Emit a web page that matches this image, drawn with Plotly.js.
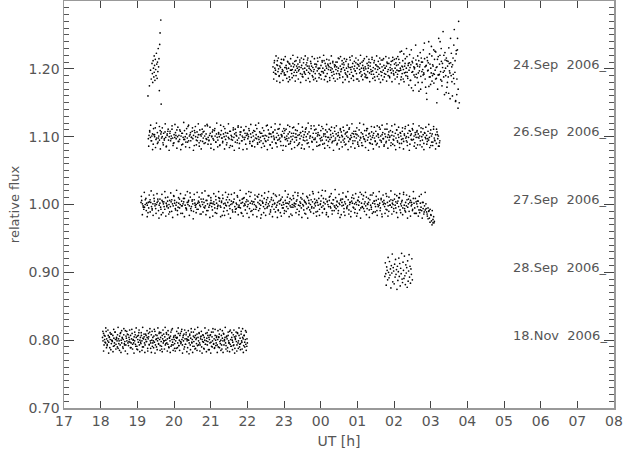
<!DOCTYPE html>
<html>
<head>
<meta charset="utf-8">
<script src="https://cdn.plot.ly/plotly-3.0.1.min.js"></script>
<style>html,body{margin:0;padding:0;background:#fff;}#chart{width:624px;height:453px;}</style>
</head>
<body>
<div id="chart"></div>
<script>
// ---- data ----
// flux deviations in units of 0.001 relative to each night's level
var labels = ["24.Sep\u00a0\u00a02006_", "26.Sep\u00a0\u00a02006_", "27.Sep\u00a0\u00a02006_", "28.Sep\u00a0\u00a02006_", "18.Nov\u00a0\u00a02006_"];
var levels = [1.20, 1.10, 1.00, 0.90, 0.80];

// 24 Sep: short first segment (time, flux)
var sep24aTime = [19.29,19.33,19.36,19.38,19.40,19.41,19.42,19.43,19.44,19.45,19.46,19.46,19.47,19.48,19.49,19.50,19.51,19.52,19.53,19.54,19.55,19.56,19.57,19.58,19.59,19.60,19.61,19.62,19.64,19.65];
var sep24aFlux = [1.160,1.175,1.198,1.185,1.208,1.193,1.180,1.212,1.201,1.188,1.219,1.195,1.205,1.183,1.214,1.199,1.190,1.223,1.207,1.186,1.210,1.196,1.230,1.203,1.215,1.168,1.236,1.253,1.272,1.148];

// 24 Sep: main segment (set A whole run, set C quiet part, set D noisy end)
var sep24bStart = 22.70, sep24bEnd = 27.78;
var sep24bDev = [
3,-5,9,1,-2,-8,6,12,-4,0,-10,4,2,-7,8,-1,-3,14,-6,2,
-9,5,0,-4,10,1,-12,7,-2,4,-7,-1,8,3,-5,11,-2,-10,4,1,
7,-3,-1,13,-7,2,5,-11,0,9,-4,1,-8,6,-2,4,16,-5,1,-7,
-1,8,4,-10,2,-4,-1,7,-14,3,6,-3,11,0,-7,1,-9,5,-4,10,
1,-6,12,-2,-11,4,1,-7,7,-1,3,-13,8,2,-5,0,9,-4,-8,3,
5,-1,-7,10,-3,1,15,-9,4,-4,0,7,-12,2,6,-2,-6,11,1,-10,
-4,7,2,-8,13,-1,-5,3,8,-11,0,4,-3,9,-7,1,-15,6,4,-1,
8,-4,1,-9,5,12,-2,-7,3,0,-13,8,-4,1,10,-6,4,-1,-8,14,
-3,2,9,-12,0,6,-5,4,-1,11,-8,1,7,-4,-10,3,13,-2,5,-7,
1,-8,4,10,-4,-1,8,-11,2,6,-6,0,12,-3,-9,7,1,-5,15,-2,
-8,6,14,-3,25,-2,-12,4,3,-15,22,-6,8,-5,1,18,-11,5,-24,9,
2,-17,28,-5,9,-32,3,0,-12,35,-8,7,4,-20,12,-3,6,-30,16,-4,
10,-9,-6,38,3,-27,5,-45,12,-2,40,-12,7,-23,-6,19,-10,4,28,-8,
26,-15,2,-50,14,-9,45,-8,20,-4,30,-18,8,55,-12,-3,24,1,-35,12,
-20,11,-36,8,-6,45,-10,3,-40,16,-14,58,-5,-48,22,-38,28,-58,70,-50];
var sep24cStart = 22.72, sep24cEnd = 26.05;
var sep24cDev = [
-15,12,-7,19,-18,5,16,-11,-20,9,14,-4,-17,13,-9,18,2,-14,11,-19,
8,-16,15,-2,-13,20,-10,6,-18,12,-5,17,-15,3,10,-20,16,-8,-12,14,
-6,19,-17,9,13,-14,4,-19,11,-3,18,-12,-16,15,-7,7,-18,16,1,-13,
17,-9,-15,12,-4,20,-16,8,-11,14,-19,5,13,-17,-2,19,-10,11,-14,6,
-18,10,3,-15,16,-7,-13,18,-1,12,-20,9,15,-16,-8,14,-12,4,-19,17,
2,-14,19,-10,-17,11,-3,16,-15,7,13,-18,-6,20,-11,10,-16,1,15,-12,
-9,18,-13,5,14,-19,9,-4,17,-14,-8,12,-17,6,19,-11,3,-15,16,-20,
13,-5,-16,15,-12,1,18,-18,8,-10,16,-13,-2,11,-19,17,-7,14,-15,9];
var sep24dStart = 26.07, sep24dEnd = 27.75;
var sep24dDev = [
5,-12,18,-3,-22,9,1,-16,26,-7,12,-1,-19,4,15,-10,30,-5,-14,8,
-2,21,-17,6,-28,11,-4,16,-9,2,-24,13,7,-13,19,-6,-33,3,24,-11,
10,-20,-1,28,-8,15,-15,4,-36,17,-3,9,-26,22,-12,1,33,-18,6,-7,
-21,14,-2,25,-14,3,-30,18,-9,7,40,-16,11,-25,2,-5,20,-38,13,-10,
16,-27,4,-12,31,-3,-44,9,23,-19,6,-8,35,-22,12,-47,27,-15,45,-30];

// 26 Sep
var sep26Start = 19.30, sep26End = 27.25;
var sep26Dev = [
-3,2,7,-1,-6,1,4,-11,3,0,13,-4,-2,6,-8,1,-5,9,4,-2,
0,-9,5,-3,7,-1,-14,2,8,-5,0,5,-6,1,11,-2,-10,3,-1,6,
-3,10,0,-7,2,-4,8,1,-12,5,-1,-4,9,0,-8,4,-2,15,-6,1,
3,-6,-1,8,-3,2,-13,6,0,-5,7,-1,3,-9,10,-6,1,4,-7,-2,
8,1,-9,4,-4,16,-1,-6,2,5,-11,0,7,-3,-5,9,1,-8,4,-1,
-5,6,0,-12,3,9,-2,-7,4,0,12,-4,1,-9,5,-1,-3,8,-13,2,
0,-5,10,-1,4,-8,6,1,-5,14,-2,-10,3,7,-6,1,-1,9,-4,5,
-11,2,5,-3,0,9,-7,4,-1,-14,6,1,-5,8,-2,3,12,-9,0,-4,
7,-1,-6,5,1,-10,9,-3,2,-7,1,17,-5,-1,5,-12,4,0,-8,6,
1,-4,10,-9,-1,5,-5,2,12,-2,-7,3,0,8,-13,5,-1,-4,11,1,
-6,4,-2,7,-10,0,5,-4,1,14,-8,-1,4,-5,9,2,-11,3,-3,6,
1,-12,8,-1,3,-6,11,0,-5,4,-9,7,-2,1,16,-7,-1,5,-4,10,
-2,5,-8,1,6,-13,2,-3,9,-1,-5,12,1,-10,4,0,-5,7,-1,-7,
11,-4,3,-1,-9,5,1,-6,8,-2,4,-12,1,6,-5,-1,10,-8,2,0,
-5,9,-3,4,-11,1,7,-1,-7,13,-4,2,-1,5,-10,4,0,-6,8,-2,
3,-8,1,10,-5,-1,6,-13,4,0,-3,9,-7,2,12,-5,-1,4,-9,1,
-4,7,-11,2,5,-2,-6,8,1,-10,4,-1,14,-5,1,-8,3,6,-3,-12,
4,0,-7,11,-1,3,-5,-1,9,-9,2,7,-4,1,-13,5,-2,10,-6,3,
-1,-10,6,1,-4,8,-3,-7,4,12,-2,0,-8,5,-1,9,-11,2,4,-5,
10,-4,1,-9,3,-1,7,-12,4,-2,1,-6,13,0,-5,3,-10,6,-1,-3,
2,-7,8,-5,-1,5,-13,1,4,-8,11,-2,-6,3,-10,7,-3,1,-14,-6];
var sep26bDev = [
-14,9,17,-6,-19,12,3,-16,20,-10,-2,15,-18,7,13,-12,-5,19,-15,4,
11,-20,8,-3,16,-13,-9,18,2,-17,14,-7,10,-19,5,-11,21,-4,-15,12,
-8,17,-16,6,-1,13,-20,9,15,-12,-6,19,-14,3,-18,11,7,-10,16,-3,
18,-11,-5,14,-17,1,10,-19,12,-8,20,-15,4,-13,17,-2,-9,15,-18,6,
-12,5,19,-16,8,-4,-14,13,-20,11,2,-9,16,-17,7,14,-6,-19,10,-1,
15,-18,3,12,-10,18,-13,-7,9,-15,17,-3,-11,20,-8,5,-16,13,1,-14,
-6,16,-19,10,4,-12,14,-17,7,-2,19,-10,-15,11,-4,18,-13,2,-20,12,
9,-14,-3,17,-11,15,-7,-18,13,5,-16,10,-1,-13,19,-9,6,-17,14,-5,
-18,7,13,-10,20,-15,1,12,-8,-19,16,-4,11,-14,3,17,-12,-6,15,-11,
4,-17,10,18,-13,-1,-16,9,14,-7,-20,13,-5,16,-10,2,-18,12,7,-15,
14,-8,-12,6,17,-19,11,-3,-15,19,-6,8,-17,4,13,-11,-14,20,-2,-9,
-13,18,-4,-16,9,12,-20,5,-10,15,-1,-18,14,-7,-12,16,3,-15,11,-6,
17,-3,-14,11,-9,19,-17,7,1,-13,16,-11,-5,18,-19,10,-8,14,-16,5,
-10,13,-18,2,15,-6,-13,17,-20,8,-4,12,19,-14,6,-17,9,-1,16,-12,
7,-15,12,-19,5,14,-11,-3,18,-16,10,-8,-13,15,-5,-18,11,3,-14,-9];

// 27 Sep
var sep27Start = 19.10, sep27End = 27.10;
var sep27Dev = [
3,6,1,-2,-7,-4,0,9,2,-1,-12,-5,4,7,3,-3,-8,1,14,5,
-2,-6,0,3,8,-9,-1,2,-4,-15,6,4,1,-3,-7,10,2,-1,5,-5,
0,-11,-3,4,7,1,-2,12,6,-6,-1,3,-9,-4,2,8,0,-13,5,-2,
1,4,9,-1,-5,-8,3,0,6,-2,17,-6,-3,5,1,-10,7,2,-4,0,
-7,2,5,11,-1,-3,-14,4,0,8,3,-5,-2,6,-9,1,13,-4,-1,2,
6,-3,-8,1,4,0,-12,7,2,-6,-1,10,5,-2,-4,3,-16,9,1,-5,
2,-1,7,-9,3,15,-2,-6,0,5,1,-11,4,8,-3,-7,2,0,11,-4,
-1,6,-5,2,-13,3,9,-2,1,-8,4,7,-3,0,19,-6,2,-10,5,1,
4,-7,0,8,-2,-4,12,3,-9,1,6,-1,-15,5,2,-3,9,-6,0,3,
-5,10,1,-2,4,-11,7,-3,0,6,-7,2,14,-4,-1,3,-8,5,1,-12,
8,-1,-5,3,0,-9,6,2,-3,11,-6,1,4,-2,-14,7,0,-4,9,2,
-3,1,5,-7,13,-1,-10,4,2,-5,8,0,-2,6,-13,3,1,-6,10,-4,
2,-8,0,7,-3,4,16,-5,1,-2,-11,6,3,-1,9,-7,0,5,-4,21,
-2,3,-6,1,8,-12,4,0,-3,6,12,-5,2,-9,1,7,-2,-4,10,-1,
5,-3,-9,2,0,6,-15,3,8,-1,-6,4,1,11,-4,-2,7,-8,0,3,
-10,5,2,-4,9,1,-7,3,0,-13,6,-1,4,18,-5,2,-3,8,-6,1,
4,-2,11,-6,0,3,-8,7,-1,-4,14,2,-11,5,1,-3,6,-9,0,8,
-1,2,-5,9,-14,4,0,6,-3,1,-7,12,3,-2,-10,5,-1,7,-4,2,
0,-6,8,-1,4,-12,2,5,-3,10,-8,1,-2,6,-5,15,-1,-9,3,-2,
7,-4,1,-10,3,6,-2,0,-7,9,2,-5,-13,4,1,-3,5,-8,-12,2,
-4,-9,3,-6,-14,-2,-8,1,-11,-17,-5,-10,-20,-7,-15,-24,-9,-27,-18,-25];
var sep27bDev = [
12,-15,-4,18,7,-9,-18,3,14,-11,20,-6,-16,9,1,-13,16,5,-20,8,
-7,15,-12,4,19,-17,-3,11,-14,6,17,-10,-19,13,2,-8,21,-15,10,-5,
16,-2,-13,9,-18,14,-6,19,4,-16,11,-9,7,-21,15,-1,-12,18,-7,3,
-14,8,17,-11,-4,20,-15,6,-9,13,-19,10,2,-17,16,-5,12,-13,-3,19,
9,-18,5,14,-10,-16,18,-2,11,-14,7,-20,15,-8,3,17,-11,-6,13,-15,
-4,21,-12,8,-17,10,-1,16,-13,5,-19,12,18,-9,-15,4,14,-7,-18,11,
15,-6,-20,13,3,-12,17,-16,7,-3,19,-14,-8,10,-18,16,1,-11,12,-19,
-9,14,6,-17,11,-5,-13,20,-10,2,15,-18,9,-4,-16,13,-1,18,-12,7,
17,-15,-2,10,-19,16,-8,4,-14,12,-20,6,14,-11,-5,19,-13,8,3,-17,
-10,18,-16,1,13,-12,9,-7,20,-15,5,-18,11,-3,16,-14,7,-9,22,-6,
4,-13,15,-19,8,-2,17,-11,-16,12,-6,19,-14,3,-18,10,14,-5,-12,16,
-17,6,11,-8,-20,15,-4,13,-10,18,-15,1,9,-19,14,-7,-13,17,5,-11,
12,-16,-3,19,-9,7,-18,14,2,-13,16,-8,-17,11,-1,20,-14,6,-10,15,
-5,13,-19,10,16,-12,4,-15,18,-6,-11,14,-20,8,12,-17,3,-9,19,-13,
9,-13,5,-17,12,-8,15,-20,3,-11,18,-6,-14,-21,-9,-26,-16,-30,-22,-27];

// 28 Sep
var sep28Start = 25.75, sep28End = 26.50;
var sep28Dev = [
-6,14,-2,-19,8,3,-11,22,0,-8,16,-4,5,-23,10,-1,27,-14,7,2,
-17,12,-7,19,-3,4,-25,9,-12,1,21,-6,13,-20,6,-2,28,-10,-15,15,
3,-9,24,-5,-18,11,-1,7,-22,17,-13,2,26,-7,9,-16,5,-3,20,-11];

// 18 Nov
var nov18Start = 18.05, nov18End = 22.00;
var nov18Dev = [
4,-1,10,-7,1,6,-4,13,2,-8,-1,7,-3,5,-11,1,9,-5,0,-2,
7,-9,3,-4,12,1,-6,4,-1,8,-12,2,-1,6,-7,11,0,-4,4,-10,
1,8,-5,-2,14,-7,3,-1,9,-4,-8,4,1,-3,7,-11,2,10,-6,0,
-4,5,-1,8,-9,4,-13,6,1,-3,11,-7,0,4,-5,7,-1,-10,3,2,
9,-4,-7,1,7,-2,4,-12,2,5,-6,12,-1,-4,8,0,-9,4,-1,6,
-3,13,-7,1,-10,7,-1,3,-5,10,1,-8,4,-2,-13,7,2,-4,9,-1,
5,-7,0,11,-4,2,-6,8,-11,4,-1,6,-9,15,1,-3,-7,4,1,-5,
7,-1,-12,3,4,-4,10,-8,0,7,-2,-5,13,1,-7,4,-1,9,-10,2,
-6,8,2,-1,-11,5,0,-4,7,-7,3,12,-3,1,-9,6,-2,4,-13,7,
1,-5,9,-8,4,-1,11,-4,-7,2,6,-10,1,-2,7,-12,4,0,-6,10,
-1,3,-7,7,-14,4,1,-4,8,-3,-9,5,-1,12,-6,2,-11,7,0,-4,
6,-7,1,-10,4,9,-2,-5,0,7,-13,3,-1,10,-7,1,4,-4,-8,5,
2,-11,7,-1,-4,13,-6,1,-9,4,0,-3,8,-7,5,-12,1,6,-2,-7,
11,-4,-1,7,-10,3,-5,9,-1,-13,4,2,-8,7,-3,1,-6,12,-9,-4];
var nov18bDev = [
13,-16,7,-3,18,-11,-6,15,-19,4,11,-14,9,-1,-17,16,-8,12,-13,2,
-10,19,-5,-15,10,-18,14,3,-12,17,-7,-16,6,13,-20,8,-2,15,-11,-4,
16,-13,1,-19,12,-6,18,-9,-14,7,15,-17,-3,11,-15,19,-10,5,-18,9,
-2,14,-16,10,-7,17,-12,-18,13,-4,-11,16,-19,8,2,-14,18,-6,12,-15,
11,-9,-17,15,-1,-13,19,-5,9,-16,14,-10,3,-18,12,-7,17,-15,6,-12,
-16,4,13,-11,18,-8,-15,10,-3,16,-19,7,-13,15,-6,11,-17,1,14,-20,
9,-14,17,-4,-18,12,-9,16,-12,3,-15,19,-7,10,-16,5,13,-19,8,-3,
-13,18,-6,-17,11,-2,15,-14,7,-19,12,-10,17,-5,-12,16,-8,4,-18,14,
5,-11,16,-15,-7,14,-18,9,-1,19,-13,6,-16,12,-4,-17,15,-9,11,-14,
-8,15,-19,3,12,-16,10,-12,18,-6,-14,13,-3,17,-18,7,-10,14,-15,2];

var xTickVals = [17,18,19,20,21,22,23,24,25,26,27,28,29,30,31,32];
var xTickText = ["17","18","19","20","21","22","23","00","01","02","03","04","05","06","07","08"];

// ---- build traces ----
function times(t0, t1, n) { var a = []; for (var i = 0; i < n; i++) a.push(t0 + i * (t1 - t0) / (n - 1)); return a; }
function flux(level, dev) { return dev.map(function (d) { return level + d / 1000; }); }

var mk = {size: 1.7, color: '#000'};
function tr(x, y) { return {x: x, y: y, type: 'scatter', mode: 'markers', marker: mk, hoverinfo: 'skip', showlegend: false}; }

var data = [
  tr(sep24aTime, sep24aFlux),
  tr(times(sep24bStart, sep24bEnd, sep24bDev.length), flux(levels[0], sep24bDev)),
  tr(times(sep24cStart, sep24cEnd, sep24cDev.length), flux(levels[0], sep24cDev)),
  tr(times(sep24dStart, sep24dEnd, sep24dDev.length), flux(levels[0], sep24dDev)),
  tr(times(sep26Start, sep26End, sep26Dev.length), flux(levels[1], sep26Dev)),
  tr(times(sep26Start + 0.01, sep26End - 0.01, sep26bDev.length), flux(levels[1], sep26bDev)),
  tr(times(sep27Start, sep27End, sep27Dev.length), flux(levels[2], sep27Dev)),
  tr(times(sep27Start + 0.01, sep27End - 0.01, sep27bDev.length), flux(levels[2], sep27bDev)),
  tr(times(sep28Start, sep28End, sep28Dev.length), flux(levels[3], sep28Dev)),
  tr(times(nov18Start, nov18End, nov18Dev.length), flux(levels[4], nov18Dev)),
  tr(times(nov18Start + 0.01, nov18End - 0.01, nov18bDev.length), flux(levels[4], nov18bDev))
];

var fnt = {family: 'DejaVu Sans, sans-serif', size: 14, color: '#555'};
var annotations = labels.map(function (t, i) {
  return {x: 31.87, y: levels[i] + 0.007, xref: 'x', yref: 'y', text: t, showarrow: false,
          xanchor: 'right', yanchor: 'middle', font: {family: 'DejaVu Sans, sans-serif', size: 13, color: '#555'}};
});

var layout = {
  width: 624, height: 453,
  margin: {l: 64, r: 10, t: 1, b: 45},
  paper_bgcolor: '#fff', plot_bgcolor: '#fff',
  font: fnt,
  xaxis: {
    range: [17, 32], tickmode: 'array', tickvals: xTickVals, ticktext: xTickText,
    ticks: 'inside', ticklen: 7, tickcolor: '#444', tickwidth: 1,
    showline: true, linecolor: '#999', linewidth: 1.5, mirror: 'ticks',
    showgrid: false, zeroline: false, tickfont: fnt,
    title: {text: 'UT [h]', font: fnt, standoff: 8}
  },
  yaxis: {
    range: [0.70, 1.30], tickmode: 'linear', tick0: 0.7, dtick: 0.1, tickformat: '.2f',
    ticks: 'inside', ticklen: 10, tickcolor: '#444', tickwidth: 1,
    minor: {tickmode: 'linear', tick0: 0.7, dtick: 0.01, ticks: 'inside', ticklen: 5, tickcolor: '#555', tickwidth: 1, showgrid: false},
    showline: true, linecolor: '#999', linewidth: 1.5, mirror: 'ticks',
    showgrid: false, zeroline: false, tickfont: fnt,
    title: {text: 'relative flux', font: {family: 'DejaVu Sans, sans-serif', size: 13, color: '#555'}, standoff: 6}
  },
  annotations: annotations
};

Plotly.newPlot('chart', data, layout, {displayModeBar: false, staticPlot: true});
</script>
</body>
</html>
